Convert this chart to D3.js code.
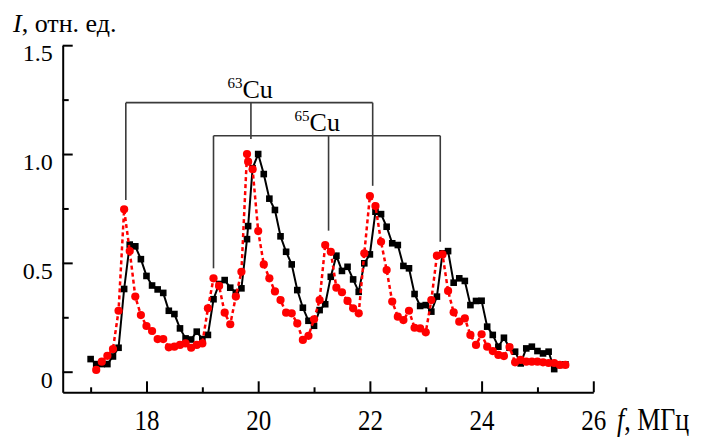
<!DOCTYPE html>
<html><head><meta charset="utf-8">
<script src="https://cdn.jsdelivr.net/npm/d3@7"></script>
<style>
html,body{margin:0;padding:0;background:#fff;}
svg{display:block;}
text{font-family:"Liberation Serif","Times New Roman",serif;fill:#000;}
</style></head>
<body>
<svg id="chart" width="704" height="437"></svg>
<script>
// ---- data ----
const blackX = [17.0,17.1,17.2,17.3,17.4,17.5,17.6,17.7,17.8,17.9,18.0,18.1,18.2,18.3,18.4,18.5,18.6,18.7,18.8,18.9,19.0,19.1,19.2,19.3,19.4,19.5,19.6,19.7,19.8,19.82,19.9,20.0,20.1,20.2,20.3,20.4,20.5,20.6,20.7,20.8,20.9,21.0,21.1,21.2,21.3,21.4,21.5,21.6,21.7,21.8,21.9,22.0,22.1,22.2,22.3,22.4,22.5,22.6,22.7,22.8,22.9,23.0,23.1,23.2,23.3,23.4,23.5,23.6,23.7,23.8,23.9,24.0,24.1,24.2,24.3,24.4,24.5,24.6,24.7,24.8,24.9,25.0,25.1,25.2,25.3,25.4,25.5];
const blackY = [0.058,0.035,0.035,0.035,0.07,0.11,0.38,0.584,0.576,0.517,0.44,0.396,0.378,0.362,0.28,0.265,0.199,0.153,0.148,0.184,0.15,0.169,0.333,0.403,0.421,0.386,0.363,0.383,0.609,0.669,0.935,1.0,0.908,0.795,0.743,0.622,0.551,0.493,0.375,0.294,0.234,0.211,0.283,0.31,0.436,0.533,0.463,0.482,0.424,0.367,0.498,0.539,0.735,0.724,0.666,0.59,0.582,0.486,0.475,0.357,0.302,0.306,0.276,0.345,0.544,0.554,0.409,0.429,0.417,0.306,0.325,0.326,0.207,0.169,0.115,0.156,0.11,0.092,0.038,0.107,0.115,0.095,0.084,0.092,0.012,0.031,0.034];
const redX = [17.1,17.2,17.3,17.4,17.5,17.6,17.7,17.8,17.9,18.0,18.1,18.2,18.3,18.4,18.5,18.6,18.7,18.8,18.9,19.0,19.1,19.2,19.3,19.4,19.5,19.6,19.7,19.8,19.82,19.9,20.0,20.1,20.2,20.3,20.4,20.5,20.6,20.7,20.8,20.9,21.0,21.1,21.2,21.3,21.4,21.5,21.6,21.7,21.8,21.9,22.0,22.1,22.2,22.3,22.4,22.5,22.6,22.7,22.8,22.9,23.0,23.1,23.2,23.3,23.4,23.5,23.6,23.7,23.8,23.9,24.0,24.1,24.2,24.3,24.4,24.5,24.6,24.7,24.8,24.9,25.0,25.1,25.2,25.3,25.4,25.5];
const redY = [0.008,0.046,0.073,0.104,0.28,0.746,0.554,0.345,0.26,0.21,0.187,0.15,0.15,0.112,0.115,0.123,0.13,0.11,0.123,0.13,0.291,0.429,0.394,0.271,0.218,0.345,0.459,1.0,0.965,0.93,0.646,0.493,0.429,0.369,0.329,0.271,0.268,0.222,0.146,0.165,0.241,0.329,0.582,0.551,0.386,0.365,0.325,0.291,0.268,0.544,0.807,0.761,0.597,0.467,0.322,0.253,0.237,0.28,0.202,0.199,0.181,0.329,0.533,0.539,0.371,0.273,0.23,0.245,0.169,0.123,0.172,0.115,0.095,0.077,0.072,0.113,0.043,0.054,0.046,0.046,0.046,0.043,0.04,0.04,0.031,0.031];

const xMajorTicks = [18,20,22,24,26];
const xMinorTicks = [17,19,21,23,25];
const yMajorTicks = [0,0.5,1.0,1.5];
const yMinorTicks = [0.25,0.75,1.25];
const yTickLabels = ["0","0.5","1.0","1.5"];

// isotope bracket annotations
const cu63Lines = [17.63,19.87,22.05];
const cu63Ends = [0.789,1.069,0.854];
const cu63Level = 1.236;
const cu65Lines = [19.2,21.26,23.26];
const cu65Ends = [0.475,0.648,0.597];
const cu65Level = 1.084;

// ---- chart ----
const svg = d3.select("#chart");
const x = d3.scaleLinear().domain([16.5,26]).range([62.7,593.3]);
const y = d3.scaleLinear().domain([-0.0946,1.5]).range([392.3,45.2]);

// brackets
const br = svg.append("g").attr("stroke","#3a3a3a").attr("stroke-width",1.6).attr("fill","none");
function bracket(xs, ends, level){
  br.append("line").attr("x1",x(xs[0])).attr("x2",x(xs[xs.length-1])).attr("y1",y(level)).attr("y2",y(level));
  xs.forEach((v,i)=>{
    br.append("line").attr("x1",x(v)).attr("x2",x(v)).attr("y1",y(level)).attr("y2",y(ends[i]));
  });
}
bracket(cu63Lines,cu63Ends,cu63Level);
bracket(cu65Lines,cu65Ends,cu65Level);

// labels for isotopes
function isoLabel(xs, level, mass, dx){
  const t = svg.append("text").attr("x", x(xs[1]) + dx).attr("y", y(level) - 4.5).attr("font-size", 26);
  t.append("tspan").attr("font-size",15).attr("dy",-10).text(mass);
  t.append("tspan").attr("dy",10).text("Cu");
}
isoLabel(cu63Lines, cu63Level, "63", -23.5);
isoLabel(cu65Lines, cu65Level, "65", -34);

// axes
const xAxis = svg.append("g").attr("transform",`translate(0,${y.range()[0]})`)
  .call(d3.axisBottom(x).tickValues(xMajorTicks).tickSize(-11).tickSizeOuter(0).tickPadding(0));
svg.append("g").attr("transform",`translate(0,${y.range()[0]})`)
  .call(d3.axisBottom(x).tickValues(xMinorTicks).tickSize(-5).tickSizeOuter(0).tickFormat(""))
  .select(".domain").remove();
xAxis.attr("font-family",null);
xAxis.selectAll("text").attr("y",0).attr("dy",0)
  .attr("transform","translate(0,37.7) scale(1,1.2)")
  .attr("font-size",25);

const yAxis = svg.append("g").attr("transform",`translate(${x.range()[0]},0)`)
  .call(d3.axisLeft(y).tickValues(yMajorTicks).tickSize(-10).tickSizeOuter(0).tickPadding(10)
    .tickFormat((d,i)=>yTickLabels[i]));
svg.append("g").attr("transform",`translate(${x.range()[0]},0)`)
  .call(d3.axisLeft(y).tickValues(yMinorTicks).tickSize(-6).tickSizeOuter(0).tickFormat(""))
  .select(".domain").remove();
yAxis.attr("font-family",null);
yAxis.selectAll("text").attr("dy","0.64em").attr("font-size",24);

svg.selectAll(".domain, .tick line").attr("stroke","#000").attr("stroke-width",2);

// axis titles
const yt = svg.append("text").attr("x",13).attr("y",32).attr("font-size",26);
yt.append("tspan").attr("font-style","italic").text("I");
yt.append("tspan").text(", отн. ед.");

const xt = svg.append("text").attr("transform","translate(617,430) scale(1,1.2)").attr("font-size",26);
xt.append("tspan").attr("font-style","italic").text("f");
xt.append("tspan").text(", МГц");

// series
const black = blackX.map((v,i)=>[v,blackY[i]]);
const red = redX.map((v,i)=>[v,redY[i]]);
const line = d3.line().x(d=>x(d[0])).y(d=>y(d[1]));

svg.append("path").datum(black).attr("d",line).attr("fill","none").attr("stroke","#000").attr("stroke-width",2);
svg.append("g").selectAll("rect").data(black).join("rect")
  .attr("x",d=>x(d[0])-3.3).attr("y",d=>y(d[1])-3.3).attr("width",6.6).attr("height",6.6).attr("fill","#000");

svg.append("path").datum(red).attr("d",line).attr("fill","none").attr("stroke","#f00").attr("stroke-width",2.5).attr("stroke-dasharray","4,3");
svg.append("g").selectAll("circle").data(red).join("circle")
  .attr("cx",d=>x(d[0])).attr("cy",d=>y(d[1])).attr("r",4.1).attr("fill","#f00");
</script>
</body></html>
